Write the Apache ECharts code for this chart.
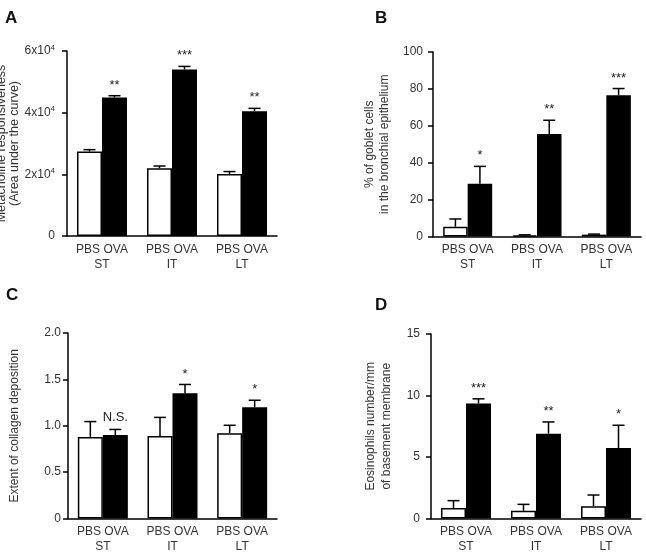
<!DOCTYPE html>
<html>
<head>
<meta charset="utf-8">
<script src="https://cdn.jsdelivr.net/npm/echarts@6/dist/echarts.min.js"></script>
<style>
html,body{margin:0;padding:0;background:#fff;}
#main{width:646px;height:557px;}
</style>
</head>
<body>
<div id="main"></div>
<script>
// ---------- data ----------
var categories = ['ST', 'IT', 'LT'];
var groupLabel = 'PBS OVA';

// Panel A: Metacholine responsiveness (AUC)
var aPBS = [27400, 22000, 20100];
var aPBSErr = [600, 700, 800];
var aOVA = [44900, 54000, 40500];
var aOVAErr = [600, 1000, 900];
var aSig = ['**', '***', '**'];
var aTicks = [0, 20000, 40000, 60000];

// Panel B: % goblet cells
var bPBS = [5.3, 0.6, 1.0];
var bPBSErr = [4.2, 0.3, 0.3];
var bOVA = [28.6, 55.6, 76.6];
var bOVAErr = [9.4, 7.4, 3.6];
var bSig = ['*', '**', '***'];
var bTicks = [0, 20, 40, 60, 80, 100];

// Panel C: collagen deposition
var cPBS = [0.88, 0.89, 0.92];
var cPBSErr = [0.165, 0.2, 0.085];
var cOVA = [0.90, 1.35, 1.20];
var cOVAErr = [0.06, 0.095, 0.075];
var cSig = ['N.S.', '*', '*'];
var cTicks = [0, 0.5, 1.0, 1.5, 2.0];

// Panel D: eosinophils
var dPBS = [0.85, 0.63, 0.99];
var dPBSErr = [0.6, 0.52, 0.92];
var dOVA = [9.35, 6.9, 5.73];
var dOVAErr = [0.38, 0.95, 1.85];
var dSig = ['***', '**', '*'];
var dTicks = [0, 5, 10, 15];

// ---------- chart ----------
var FONT = 'Liberation Sans, Arial, sans-serif';
var TXT = '#333';
var panels = [
  {grid: {left: 67, top: 51, width: 210, height: 185}, pbs: aPBS, pbsErr: aPBSErr, ova: aOVA, ovaErr: aOVAErr, sig: aSig, ticks: aTicks,
   name: 'Metacholine responsiveness\n(Area under the curve)', nameGap: 43, nameSize: 12.5, nameLH: 13, bw: 25, sci: true, lm: 12},
  {grid: {left: 433, top: 52, width: 208, height: 184.5}, pbs: bPBS, pbsErr: bPBSErr, ova: bOVA, ovaErr: bOVAErr, sig: bSig, ticks: bTicks,
   name: '% of goblet cells\nin the bronchial epithelium', nameGap: 41, nameSize: 12, nameLH: 15, bw: 24.5, lm: 10},
  {grid: {left: 68, top: 333, width: 209, height: 185.5}, pbs: cPBS, pbsErr: cPBSErr, ova: cOVA, ovaErr: cOVAErr, sig: cSig, ticks: cTicks,
   name: 'Extent of collagen deposition', nameGap: 46, nameSize: 12, nameLH: 15, bw: 25, dec: true, lm: 7},
  {grid: {left: 431, top: 334, width: 210, height: 184.5}, pbs: dPBS, pbsErr: dPBSErr, ova: dOVA, ovaErr: dOVAErr, sig: dSig, ticks: dTicks,
   name: 'Eosinophils number/mm\nof basement membrane', nameGap: 36, nameSize: 12, nameLH: 16, bw: 25, lm: 11}
];

var grids = [], xAxes = [], yAxes = [], series = [];
panels.forEach(function (p, i) {
  var g = Object.assign({containLabel: false, outerBoundsMode: 'none'}, p.grid);
  grids.push(g);
  xAxes.push({
    type: 'category', gridIndex: i, data: categories.map(function (c) { return groupLabel + '\n' + c; }),
    axisLine: {lineStyle: {color: '#000', width: 1.5}}, axisTick: {show: false},
    axisLabel: {interval: 0, margin: 6, fontSize: 12, fontFamily: FONT, color: TXT, lineHeight: 15, hideOverlap: false}
  });
  var tmin = p.ticks[0], tmax = p.ticks[p.ticks.length - 1], tint = p.ticks[1] - p.ticks[0];
  yAxes.push({
    type: 'value', gridIndex: i, min: tmin, max: tmax, interval: tint,
    splitLine: {show: false},
    axisLine: {show: true, lineStyle: {color: '#000', width: 1.5}},
    axisTick: {show: true, length: 5, lineStyle: {color: '#000', width: 1.5}},
    axisLabel: {
      margin: p.lm, fontSize: 12, fontFamily: FONT, color: TXT,
      formatter: function (v) {
        if (p.sci) { return v === 0 ? '{b|0}' : '{b|' + (v / 10000) + 'x10}{s|4}'; }
        if (p.dec) { return v === 0 ? '0' : v.toFixed(1); }
        return String(v);
      },
      rich: {b: {fontSize: 12, fontFamily: FONT, color: TXT}, s: {fontSize: 8, fontFamily: FONT, color: TXT, padding: [0, 0, 7, 0]}}
    },
    name: p.name, nameLocation: 'middle', nameGap: p.nameGap, nameRotate: 90,
    nameTextStyle: {fontSize: p.nameSize, fontFamily: FONT, color: TXT, lineHeight: p.nameLH}
  });
  series.push({
    type: 'bar', xAxisIndex: i, yAxisIndex: i, data: p.pbs, barWidth: p.bw, barGap: '0%',
    itemStyle: {color: '#fff', borderColor: '#000', borderWidth: 1.5}, silent: true
  });
  series.push({
    type: 'bar', xAxisIndex: i, yAxisIndex: i, data: p.ova, barWidth: p.bw, barGap: '0%',
    itemStyle: {color: '#000', borderColor: '#000', borderWidth: 1.5}, silent: true
  });
  var errData = [];
  p.pbs.forEach(function (v, k) { errData.push([k, v, v + p.pbsErr[k], -1, '']); });
  p.ova.forEach(function (v, k) { errData.push([k, v, v + p.ovaErr[k], 1, p.sig[k]]); });
  series.push({
    type: 'custom', xAxisIndex: i, yAxisIndex: i, data: errData, silent: true, z: 5,
    encode: {x: 0, y: 2},
    renderItem: function (params, api) {
      var k = api.value(0), v = api.value(1), top = api.value(2), side = api.value(3);
      var lbl = errData[params.dataIndex][4];
      var base = api.coord([k, v]);
      var hi = api.coord([k, top]);
      var x = base[0] + side * p.bw / 2;
      var cap = 6;
      var children = [
        {type: 'line', shape: {x1: x, y1: base[1], x2: x, y2: hi[1]}, style: {stroke: '#000', lineWidth: 1.5}},
        {type: 'line', shape: {x1: x - cap, y1: hi[1], x2: x + cap, y2: hi[1]}, style: {stroke: '#000', lineWidth: 1.5}}
      ];
      if (lbl) {
        var isStar = lbl.indexOf('*') >= 0;
        children.push({type: 'text', x: x, y: hi[1] - (isStar ? 4 : 6),
          style: {text: lbl, fontSize: 13, fontFamily: FONT, fill: '#222', align: 'center', verticalAlign: 'bottom'}});
      }
      return {type: 'group', children: children};
    }
  });
});

var letters = [
  {t: 'A', left: 5, top: 10}, {t: 'B', left: 375, top: 10},
  {t: 'C', left: 6, top: 287}, {t: 'D', left: 375, top: 297}
];

var chart = echarts.init(document.getElementById('main'), null, {renderer: 'canvas'});
chart.setOption({
  backgroundColor: '#fff',
  animation: false,
  title: letters.map(function (l) {
    return {text: l.t, left: l.left, top: l.top, padding: 0,
      textStyle: {fontSize: 17, fontWeight: 'bold', fontFamily: FONT, color: '#111'}};
  }),
  grid: grids, xAxis: xAxes, yAxis: yAxes, series: series
});
</script>
</body>
</html>
